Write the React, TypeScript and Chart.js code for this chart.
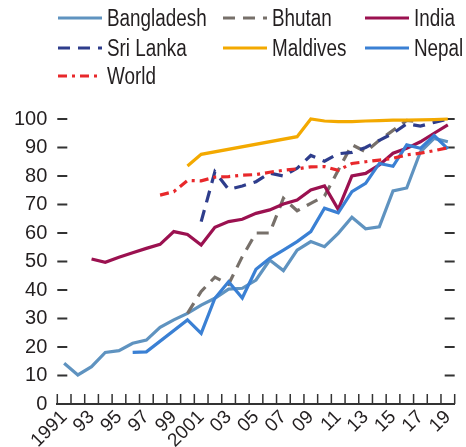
import React, { useEffect, useRef } from 'react';
import { Chart, registerables } from 'chart.js';

Chart.register(...registerables);

const years = ['1991','1992','1993','1994','1995','1996','1997','1998','1999','2000','2001','2002','2003','2004','2005','2006','2007','2008','2009','2010','2011','2012','2013','2014','2015','2016','2017','2018','2019'];
const xTickLabels = ['1991','93','95','97','99','2001','03','05','07','09','11','13','15','17','19'];
const yTicks = [0, 10, 20, 30, 40, 50, 60, 70, 80, 90, 100];

const bangladesh = [14.3,10.2,13.1,18.1,18.7,21.3,22.4,26.9,29.5,31.8,34.7,37.1,40.3,40.6,43.5,50.5,46.8,54,57,55.2,59.9,65.5,61.5,62.2,74.8,75.8,88.5,93.2,92];
const bhutan = [null,null,null,null,null,null,null,null,null,31.8,39.5,44.5,42,51.7,60,60,72.2,67.8,70.4,73,82,91,88.5,92.5,96,99.5,99,null,null];
const india = [null,null,50.9,49.7,51.5,53.1,54.6,56,60.5,59.5,55.8,62,64,64.8,66.9,68.1,70.2,71.6,75.1,76.5,68.3,80,80.9,83.9,88,89.7,92,95,97.9];
const sriLanka = [null,null,null,null,null,null,null,null,null,null,64,81.5,75.3,76.5,78,81,80,82.7,87.2,85.2,87.8,88.3,90,92.5,95,98.3,97.5,98.8,100];
const maldives = [null,null,null,null,null,null,null,null,null,83.5,87.6,null,null,null,null,null,null,93.8,100,99.3,99.1,99.1,99.3,99.4,99.6,99.6,99.7,99.8,100];
const nepal = [null,null,null,null,null,18.1,18.3,null,null,29.5,24.8,37.1,42.9,37.2,47.3,51.1,54,57,60.5,68.7,67.1,74.5,77.4,84.4,83.4,90.9,89.7,94.2,89.5];
const world = [null,null,null,null,null,null,null,73.3,74.5,78.4,78.3,79.6,79.8,80.3,80.5,81.3,82,82.5,83.2,83.3,82,84.4,85,85.6,86.2,87.4,88,88.9,89.9];

const FONT = '"Liberation Sans", Arial, sans-serif';
const TEXT = '#231f20';

type S = { label: string; data: (number | null)[]; color: string; dash: number[]; order: number };
const series: S[] = [
  { label: 'Bangladesh', data: bangladesh, color: '#5f93c0', dash: [], order: 6 },
  { label: 'Bhutan', data: bhutan, color: '#77706a', dash: [12, 8], order: 5 },
  { label: 'India', data: india, color: '#9b1150', dash: [], order: 4 },
  { label: 'Sri Lanka', data: sriLanka, color: '#2e3d8c', dash: [12, 8], order: 3 },
  { label: 'Maldives', data: maldives, color: '#f3a900', dash: [], order: 2 },
  { label: 'Nepal', data: nepal, color: '#3a80d4', dash: [], order: 1 },
  { label: 'World', data: world, color: '#e8282b', dash: [9, 5, 3, 5], order: 0 },
];

const legendPos = [
  { x: 58, y: 18 }, { x: 223, y: 18 }, { x: 365, y: 18 },
  { x: 58, y: 48 }, { x: 223, y: 48 }, { x: 365, y: 48 },
  { x: 58, y: 76 },
];

const innerTicks = {
  id: 'innerTicks',
  beforeDatasetsDraw(chart: any) {
    const { ctx, chartArea, scales } = chart;
    const xs = scales.x;
    const ys = scales.y;
    ctx.save();
    ctx.strokeStyle = '#333333';
    ctx.lineWidth = 2;
    ctx.beginPath();
    ys.ticks.forEach((t: any) => {
      const py = ys.getPixelForValue(t.value);
      ctx.moveTo(chartArea.left, py);
      ctx.lineTo(chartArea.left + 10, py);
      ctx.moveTo(chartArea.right - 10, py);
      ctx.lineTo(chartArea.right, py);
    });
    ctx.stroke();
    ctx.lineWidth = 1.5;
    ctx.beginPath();
    for (let i = 0; i <= years.length; i++) {
      const px = xs.getPixelForValue(i - 0.5);
      ctx.moveTo(px, chartArea.bottom);
      ctx.lineTo(px, chartArea.bottom - 10);
    }
    ctx.stroke();
    ctx.restore();
  },
};

function Legend() {
  return (
    <>
      {series.map((s, i) => (
        <div
          key={s.label}
          style={{
            position: 'absolute',
            left: legendPos[i].x,
            top: legendPos[i].y - 14,
            height: 28,
            display: 'flex',
            alignItems: 'center',
            fontFamily: FONT,
            fontSize: 23,
            color: TEXT,
            whiteSpace: 'nowrap',
          }}
        >
          <svg width={44} height={6} style={{ marginRight: 5, display: 'block' }}>
            <line x1={0} y1={3} x2={44} y2={3} stroke={s.color} strokeWidth={3} strokeDasharray={s.dash.length ? s.dash.join(' ') : undefined} />
          </svg>
          <span style={{ lineHeight: '23px', display: 'inline-block', transform: 'scaleX(0.82)', transformOrigin: 'left center' }}>{s.label}</span>
        </div>
      ))}
    </>
  );
}

export default function App() {
  const ref = useRef<HTMLCanvasElement | null>(null);
  useEffect(() => {
    if (!ref.current) return;
    const chart = new Chart(ref.current, {
      type: 'line',
      data: {
        labels: years,
        datasets: series.map((s) => ({
          label: s.label,
          data: s.data,
          borderColor: s.color,
          backgroundColor: s.color,
          borderWidth: 3.2,
          borderDash: s.dash,
          pointRadius: 0,
          tension: 0,
          spanGaps: true,
          clip: false as any,
          order: s.order,
        })),
      },
      options: {
        animation: false,
        responsive: false,
        maintainAspectRatio: false,
        layout: { padding: { top: 119, right: 2.7, left: 0, bottom: 0 } },
        plugins: { legend: { display: false }, tooltip: { enabled: false } },
        scales: {
          x: {
            type: 'category',
            offset: true,
            grid: { display: false, drawTicks: false, offset: true },
            border: { display: true, color: '#333333', width: 2 },
            ticks: {
              autoSkip: false,
              minRotation: 45,
              maxRotation: 45,
              padding: 2,
              color: TEXT,
              font: { family: FONT, size: 19 },
              callback: (_v: any, idx: number) => (idx % 2 === 0 ? xTickLabels[idx / 2] : ''),
            },
            afterFit: (scale: any) => { scale.height = 43; },
          },
          y: {
            min: 0,
            max: 100,
            grid: { display: false, drawTicks: false },
            border: { display: false },
            afterBuildTicks: (scale: any) => { scale.ticks = yTicks.map((v) => ({ value: v })); },
            ticks: {
              padding: 10,
              color: TEXT,
              font: { family: FONT, size: 20 },
            },
            afterFit: (scale: any) => { scale.width = 57.3; },
          },
        },
      },
      plugins: [innerTicks],
    });
    return () => chart.destroy();
  }, []);
  return (
    <div style={{ position: 'fixed', left: 0, top: 0, width: 466, height: 447, background: '#fff' }}>
      <canvas ref={ref} width={466} height={447} style={{ position: 'absolute', left: 0, top: 0, width: 466, height: 447 }} />
      <Legend />
    </div>
  );
}
